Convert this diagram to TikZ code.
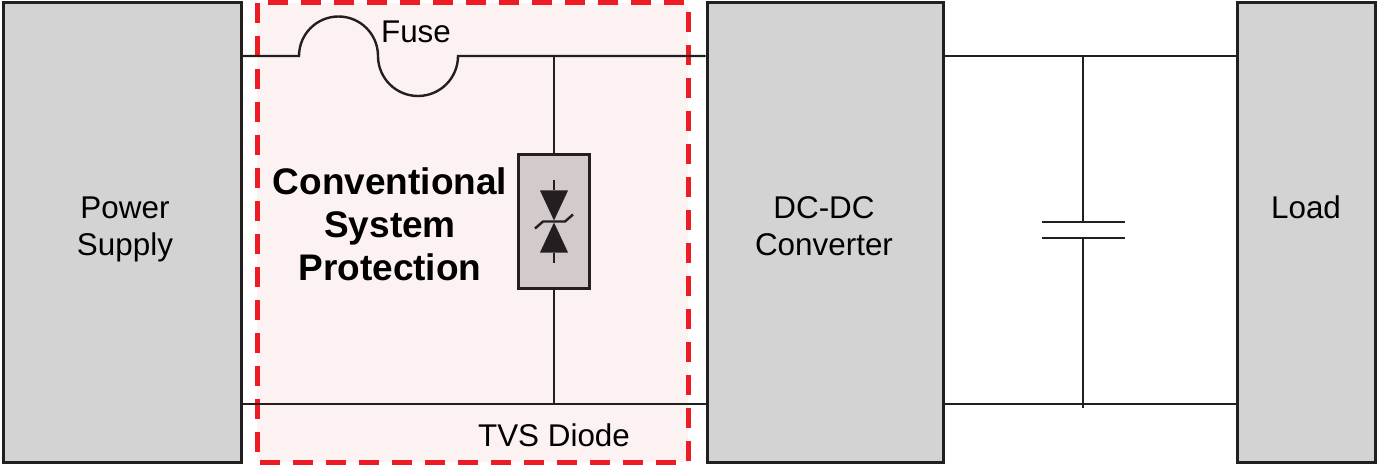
\documentclass[tikz,border=0pt]{standalone}
\usepackage{fontspec}
\setmainfont{Liberation Sans}
\usepackage{tikz}
\usetikzlibrary{arrows}

\definecolor{boxgray}{HTML}{D3D3D3}
\definecolor{tvsgray}{HTML}{D2CACB}
\definecolor{linedark}{HTML}{231F20}
\definecolor{protred}{HTML}{ED1C24}
\definecolor{protpink}{HTML}{FDF2F2}

\begin{document}
\begin{tikzpicture}[x=0.5pt,y=-0.5pt]
  \tikzset{BLK/.style={draw=linedark, fill=boxgray, line width=1.5pt, inner sep=0pt, align=center,
                       font=\fontsize{15.7}{18.5}\selectfont} }
  \tikzset{WIRE/.style={draw=linedark, line width=1.2pt} }
  \tikzset{PROT/.style={draw=protred, fill=protpink, line width=2.5pt, dash pattern=on 10pt off 6.5pt} }
  \tikzset{LBL/.style={inner sep=0pt, font=\fontsize{15.7}{18.5}\selectfont} }

  \useasboundingbox (0,0) rectangle (1377,465);

  % protection area
  \draw[PROT] (257,3) rectangle (688,462);

  \node[BLK, minimum width=119pt, minimum height=229.5pt] (psu)  at (122.0,232.5) {};
  \node[BLK, minimum width=118pt, minimum height=229.5pt] (dcdc) at (825.0,232.5) {};
  \node[BLK, minimum width=69pt,  minimum height=229.5pt] (load) at (1306.0,232.5) {};

  \node[LBL, align=center, anchor=base] (psut)  at (125,256) {Power\\Supply};
  \node[LBL, align=center, anchor=base] (dcdct) at (824,256) {DC-DC\\Converter};
  \node[LBL, anchor=base] (loadt) at (1306,219) {Load};

  \node[draw=linedark, fill=tvsgray, line width=1.2pt, minimum width=35.5pt, minimum height=67pt] (tvs) at (554,221.5) {};

  \coordinate (f1) at (299,56);
  \coordinate (jt) at (554,56);
  \coordinate (jb) at (554,404);
  \coordinate (ct) at (1083,56);
  \coordinate (cb) at (1083,408);
  \coordinate (c1) at (1083,222);
  \coordinate (c2) at (1083,238);

  % top line with fuse
  \draw[WIRE] (psu.east |- f1) -- (f1) arc (180:360:39.5) arc (180:0:40) -- (dcdc.west |- f1);
  \draw[WIRE] (psu.east |- jb) -- (dcdc.west |- jb);
  \draw[WIRE] (jt) -- (tvs.north);
  \draw[WIRE] (tvs.south) -- (jb);

  % TVS symbol
  \begin{scope}[shift={(tvs.center)}]
    \fill[linedark] (-14,-31) -- (14,-31) -- (0,-1) -- cycle;
    \fill[linedark] (-14,31) -- (14,31) -- (0,1) -- cycle;
    \draw[linedark, line width=1.2pt] (0,-41) -- (0,-31);
    \draw[linedark, line width=1.2pt] (0,31) -- (0,41);
    \draw[linedark, line width=1.2pt] (-19,7) -- (-11,0) -- (11,0) -- (19,-7);
  \end{scope}

  % output side with capacitor
  \draw[WIRE] (dcdc.east |- ct) -- (load.west |- ct);
  \draw[WIRE] (dcdc.east |- jb) -- (load.west |- jb);
  \draw[WIRE] (ct) -- (c1);
  \draw[WIRE] (c2) -- (cb);
  \draw[WIRE] (1042,222) -- (1125,222);
  \draw[WIRE] (1042,238) -- (1125,238);

  \node[LBL] (fuse) at (416,32) {Fuse};
  \node[LBL] (tvsl) at (554,435) {TVS Diode};
  \node[LBL, align=center, font=\fontsize{18.5}{21.5}\selectfont\bfseries] (prot) at (390,224)
    {Conventional\\System\\Protection};
\end{tikzpicture}
\end{document}
